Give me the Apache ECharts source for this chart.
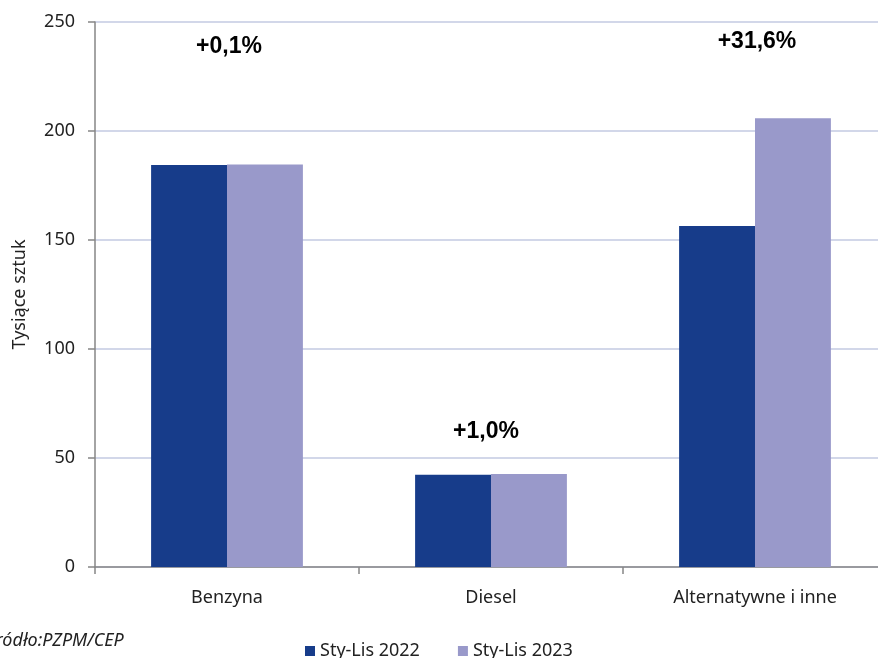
<!DOCTYPE html>
<html>
<head>
<meta charset="utf-8">
<script src="https://cdn.jsdelivr.net/npm/echarts@6/dist/echarts.min.js"></script>
<style>
  html, body { margin: 0; padding: 0; background: #fff; }
  #chart { width: 878px; height: 658px; }
</style>
</head>
<body>
<div id="chart"></div>
<script>
var categories = ['Benzyna', 'Diesel', 'Alternatywne i inne'];
var sales2022 = [184.4, 42.3, 156.4];
var sales2023 = [184.6, 42.7, 205.8];
var changeLabels = ['+0,1%', '+1,0%', '+31,6%'];
var changeLabelY = [238.5, 62, 241];

var myChart = echarts.init(document.getElementById('chart'));
var font = 'Noto Sans';

var option = {
    animation: false,
    textStyle: { fontFamily: font },
    grid: { left: 95, top: 22, width: 792, bottom: 91, outerBoundsMode: 'none', containLabel: false },
    legend: {
        left: 300, top: 637,
        itemWidth: 10, itemHeight: 10, itemGap: 38,
        icon: 'rect',
        textStyle: { fontSize: 18, color: '#222', fontFamily: font },
        data: ['Sty-Lis 2022', 'Sty-Lis 2023']
    },
    xAxis: {
        type: 'category',
        data: categories,
        axisLine: { lineStyle: { color: '#868686', width: 1.5 } },
        axisTick: { show: true, length: 7, lineStyle: { color: '#868686', width: 1.5 } },
        axisLabel: { fontSize: 18, color: '#222', margin: 22 }
    },
    yAxis: {
        type: 'value',
        min: 0, max: 250, interval: 50,
        name: 'Tysiące sztuk',
        nameLocation: 'middle',
        nameGap: 66,
        nameTextStyle: { fontSize: 18, color: '#222' },
        axisLine: { show: true, lineStyle: { color: '#868686', width: 1.5 } },
        axisTick: { show: true, length: 7, lineStyle: { color: '#868686', width: 1.5 } },
        axisLabel: { fontSize: 18, color: '#222', margin: 20 },
        splitLine: { lineStyle: { color: '#C3CAE2', width: 1.5 } }
    },
    graphic: [{
        type: 'text', left: -14, top: 632,
        style: { text: 'Źródło:PZPM/CEP', fontSize: 18, fontStyle: 'italic', fill: '#222', fontFamily: font }
    }],
    series: [{
        name: 'Sty-Lis 2022',
        type: 'bar',
        data: sales2022,
        barGap: '0%',
        barCategoryGap: '42.5%',
        itemStyle: { color: '#173C8A' }
    }, {
        name: 'Sty-Lis 2023',
        type: 'bar',
        data: sales2023,
        itemStyle: { color: '#9999CA' }
    }, {
        name: 'zmiana',
        type: 'scatter',
        symbolSize: 0,
        itemStyle: { opacity: 1 },
        data: categories.map(function (c, i) {
            return { value: [c, changeLabelY[i]], label: { offset: i === 1 ? [-5, 0] : [2, 0] } };
        }),
        label: {
            show: true, position: 'inside',
            formatter: function (p) { return changeLabels[p.dataIndex]; },
            fontSize: 23, fontWeight: 'bold', color: '#000', opacity: 1,
            fontFamily: 'Liberation Sans'
        },
        silent: true
    }]
};
myChart.setOption(option);
</script>
</body>
</html>
